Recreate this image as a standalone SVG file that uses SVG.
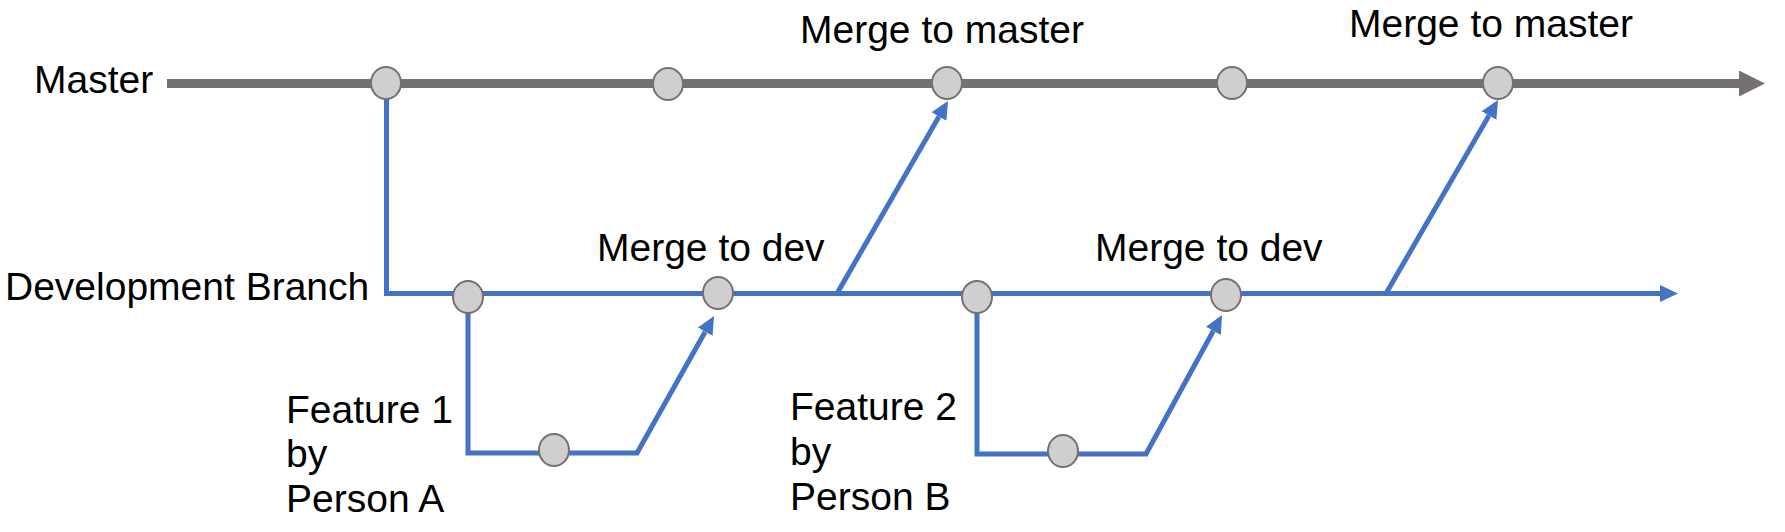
<svg xmlns="http://www.w3.org/2000/svg" width="1785" height="532" viewBox="0 0 1785 532">
<style>
  text { font-family: "Liberation Sans", Arial, sans-serif; font-size: 39px; fill: #000; }
  .master { stroke: #767171; stroke-width: 9; fill: none; }
  .blue { stroke: #4472C4; stroke-width: 5; fill: none; stroke-linejoin: miter; }
  .commit { fill: #D0CECE; stroke: #767171; stroke-width: 2; }
</style>
<defs>
  <marker id="grayArrow" markerUnits="userSpaceOnUse" markerWidth="26" markerHeight="26" refX="0" refY="13" orient="auto">
    <path d="M0,0 L26,13 L0,26 z" fill="#767171"/>
  </marker>
  <marker id="blueArrow" markerUnits="userSpaceOnUse" markerWidth="18" markerHeight="17" refX="0" refY="8.5" orient="auto">
    <path d="M0,0 L18,8.5 L0,17 z" fill="#4472C4"/>
  </marker>
</defs>

<g id="connectors">
  <line id="master-line" class="master" x1="167" y1="83.5" x2="1739" y2="83.5" marker-end="url(#grayArrow)"/>
  <path id="dev-line" class="blue" d="M386.5,83 V293.5 H1660" marker-end="url(#blueArrow)"/>
  <path id="merge-master-1" class="blue" d="M837,293.5 L939,116.6" marker-end="url(#blueArrow)"/>
  <path id="merge-master-2" class="blue" d="M1386,293.5 L1489,115.6" marker-end="url(#blueArrow)"/>
  <path id="feature-1" class="blue" d="M468,297 V453 H637 L705.2,331.7" marker-end="url(#blueArrow)"/>
  <path id="feature-2" class="blue" d="M977,297 V454 H1146 L1213.4,330.8" marker-end="url(#blueArrow)"/>
</g>

<g id="master-c1"><ellipse class="commit" cx="386" cy="83" rx="15" ry="16"/></g>
<g id="master-c2"><ellipse class="commit" cx="668" cy="84" rx="15" ry="16"/></g>
<g id="master-c3"><ellipse class="commit" cx="947" cy="83" rx="15" ry="16"/></g>
<g id="master-c4"><ellipse class="commit" cx="1232" cy="83" rx="15" ry="16"/></g>
<g id="master-c5"><ellipse class="commit" cx="1498" cy="83" rx="15" ry="16"/></g>

<g id="dev-c1"><ellipse class="commit" cx="468" cy="297" rx="15" ry="16"/></g>
<g id="dev-c2"><ellipse class="commit" cx="718" cy="293" rx="15" ry="16"/></g>
<g id="dev-c3"><ellipse class="commit" cx="977" cy="297" rx="15" ry="16"/></g>
<g id="dev-c4"><ellipse class="commit" cx="1226" cy="295" rx="15" ry="16"/></g>

<g id="feature1-c1"><ellipse class="commit" cx="554" cy="450" rx="15" ry="16"/></g>
<g id="feature2-c1"><ellipse class="commit" cx="1063" cy="451" rx="15" ry="16"/></g>

<g id="labels">
  <text id="lbl-master" x="34" y="93">Master</text>
  <text id="lbl-dev" x="5" y="300">Development Branch</text>
  <text id="lbl-merge-master-1" x="800" y="43">Merge to master</text>
  <text id="lbl-merge-master-2" x="1349" y="37">Merge to master</text>
  <text id="lbl-merge-dev-1" x="597" y="261">Merge to dev</text>
  <text id="lbl-merge-dev-2" x="1095" y="261">Merge to dev</text>
  <text id="lbl-feature-1">
    <tspan x="286" y="423">Feature 1</tspan>
    <tspan x="286" y="467">by</tspan>
    <tspan x="286" y="512">Person A</tspan>
  </text>
  <text id="lbl-feature-2">
    <tspan x="790" y="420">Feature 2</tspan>
    <tspan x="790" y="465">by</tspan>
    <tspan x="790" y="510">Person B</tspan>
  </text>
</g>
</svg>
